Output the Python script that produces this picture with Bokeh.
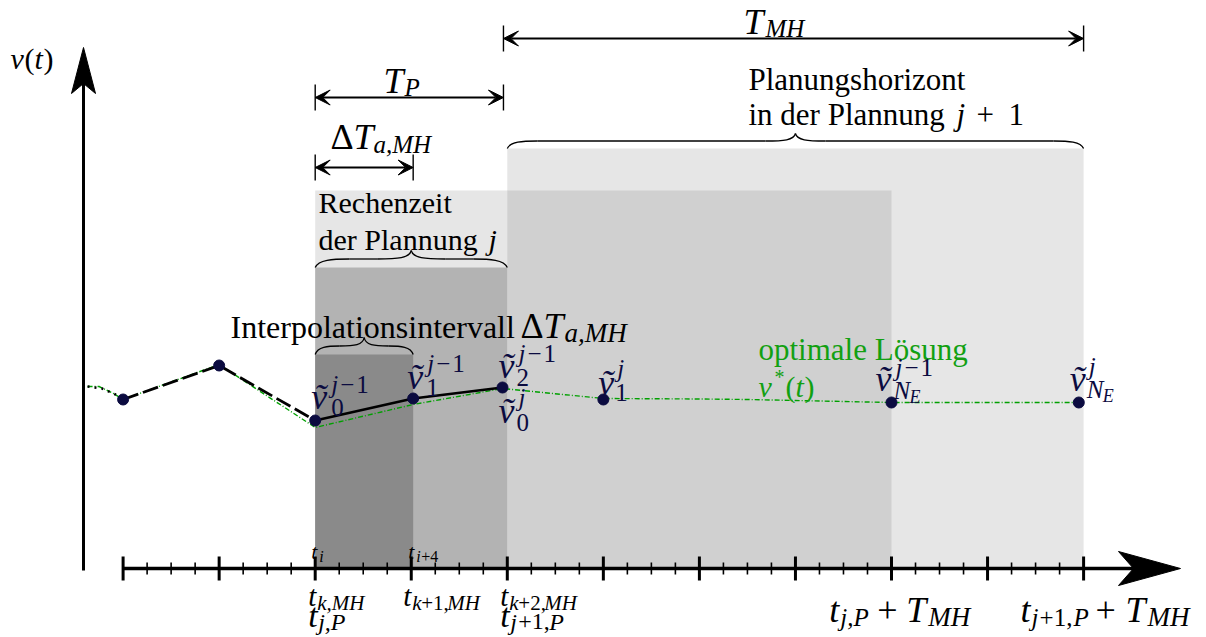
import numpy as np
from bokeh.plotting import figure
from bokeh.models import Range1d, Label, Arrow, VeeHead
from bokeh.embed import file_html
from bokeh.resources import INLINE

# ---------------- data ----------------
# time axis in planning-grid units (major = MH step, minor = quarter step)
major_ticks = list(range(0, 11))
minor_ticks = [k / 4 for k in range(0, 41) if k % 4 != 0]

# velocity support points  v~
t_points = [0.0, 1.0, 2.0, 3.02, 3.95, 5.0, 8.0, 9.95]
v_points = [16.9, 20.3, 14.8, 17.0, 18.1, 16.9, 16.6, 16.6]

# lead-in of the driven trajectory (dotted)
t_lead = [-0.37, -0.22, -0.08, 0.0]
v_lead = [18.2, 18.0, 17.4, 16.9]

# optimal solution v*(t)
t_opt = [-0.37, -0.25, -0.1, 0.0, 1.0, 2.0, 3.02, 3.95, 5.0, 6.0, 6.5, 7.0, 8.0, 9.95]
v_opt = [18.2, 18.2, 17.5, 16.9, 20.4, 14.1, 16.4, 18.0, 17.0, 16.95, 16.9, 16.8, 16.6, 16.6]

# time intervals
t_jP = 2.0       # t_{j,P}
T_P = 1.96       # planning period
dT_aMH = 1.02    # interpolation interval
T_MH = 6.04      # horizon length

# shaded regions (left, right, top)
region_left = [4.0, 2.0, 4.0, 2.0, 2.0]
region_right = [10.0, 8.0, 8.0, 4.0, 3.02]
region_top = [42.0, 37.8, 37.8, 30.1, 21.4]
region_color = ["#e6e6e6", "#e6e6e6", "#d0d0d0", "#b3b3b3", "#8a8a8a"]

# ---------------- layout mapping ----------------
X0, S = 122.6, 96.05      # px of t=0, px per t unit
Y0, SV = 568.0, 10.0      # px of v=0, px per v unit
W, H = 1206, 637


def tx(X):
    return (X - X0) / S


def vy(Y):
    return (Y0 - Y) / SV


def px(t):
    return X0 + t * S


def py(v):
    return Y0 - v * SV


p = figure(width=W, height=H, x_range=Range1d(tx(0), tx(W)),
           y_range=Range1d(vy(H), vy(0)), output_backend="svg",
           toolbar_location=None, x_axis_type=None, y_axis_type=None,
           min_border=0)
p.grid.visible = False
p.outline_line_color = None
p.background_fill_color = "white"
p.border_fill_color = "white"

# regions
p.quad(left=region_left, right=region_right, top=region_top,
       bottom=[0] * len(region_left), fill_color=region_color, line_color=None)

# trajectories
GREEN = "#12a012"
NAVY = "#0b0b40"
p.line(t_opt, v_opt, line_color="#00a000", line_width=1.4, line_dash="5 2 1 2")
p.line(t_lead, v_lead, line_color="black", line_width=2.5, line_dash="2 5")
p.line(t_points[:3], v_points[:3], line_color="black", line_width=2.8, line_dash="16 5")
p.line(t_points[2:5], v_points[2:5], line_color="black", line_width=2.6)
p.scatter(t_points, v_points, size=11, fill_color=NAVY, line_color=NAVY)

# ---------------- axes ----------------
t_axis_tip = tx(1180)
t_vaxis = tx(83)
v_vaxis_tip = vy(47)
p.line([0, t_axis_tip - 40 / S], [0, 0], line_color="black", line_width=3.5)
p.segment(x0=major_ticks, x1=major_ticks, y0=[-12 / SV] * len(major_ticks),
          y1=[12 / SV] * len(major_ticks), line_color="black", line_width=3)
p.segment(x0=minor_ticks, x1=minor_ticks, y0=[-6 / SV] * len(minor_ticks),
          y1=[6 / SV] * len(minor_ticks), line_color="black", line_width=1.6)
# arrow head horizontal axis (stealth)
L, Wd, N = 62 / S, 17 / SV, 47 / S
p.patch([t_axis_tip, t_axis_tip - L, t_axis_tip - N, t_axis_tip - L],
        [0, Wd, 0, -Wd], fill_color="black", line_color="black")
# vertical axis
p.line([t_vaxis, t_vaxis], [-0.2, v_vaxis_tip - 30 / SV], line_color="black", line_width=3)
Lv, Wv, Nv = 46 / SV, 12 / S, 36 / SV
p.patch([t_vaxis, t_vaxis - Wv, t_vaxis, t_vaxis + Wv],
        [v_vaxis_tip, v_vaxis_tip - Lv, v_vaxis_tip - Nv, v_vaxis_tip - Lv],
        fill_color="black", line_color="black")


# ---------------- dimension arrows ----------------
def dim_arrow(t0, t1, Yp, bar=13):
    v = vy(Yp)
    p.add_layout(Arrow(x_start=t0, y_start=v, x_end=t1, y_end=v, line_width=2,
                       start=VeeHead(size=15, fill_color="black", line_color="black"),
                       end=VeeHead(size=15, fill_color="black", line_color="black")))
    p.segment(x0=[t0, t1], x1=[t0, t1], y0=[v - bar / SV] * 2, y1=[v + bar / SV] * 2,
              line_color="black", line_width=1.4)


dim_arrow(t_jP + T_P, t_jP + T_P + T_MH, 38)
dim_arrow(t_jP, t_jP + T_P, 97)
dim_arrow(t_jP, t_jP + dT_aMH, 167)


# ---------------- braces ----------------
def brace(a, b, v0, amp=16):
    xa, xb, y0 = px(a), px(b), py(v0)
    m = (xa + xb) / 2
    c = min(2 * amp, (m - xa) / 2)
    ym = y0 - 0.5 * amp
    segs = []
    for sgn, e in ((1, xa), (-1, xb)):
        segs.append(((e, y0), (e + sgn * 0.1 * c, y0 - 0.45 * amp),
                     (e + sgn * 0.5 * c, ym), (e + sgn * c, ym)))
        segs.append(((m - sgn * c, ym), (m - sgn * 0.4 * c, ym),
                     (m - sgn * 0.05 * c, y0 - 0.55 * amp), (m, y0 - amp)))
        p.segment(x0=[tx(e + sgn * c)], x1=[tx(m - sgn * c)], y0=[vy(ym)], y1=[vy(ym)],
                  line_color="black", line_width=1.3)
    p.bezier(x0=[tx(s[0][0]) for s in segs], y0=[vy(s[0][1]) for s in segs],
             cx0=[tx(s[1][0]) for s in segs], cy0=[vy(s[1][1]) for s in segs],
             cx1=[tx(s[2][0]) for s in segs], cy1=[vy(s[2][1]) for s in segs],
             x1=[tx(s[3][0]) for s in segs], y1=[vy(s[3][1]) for s in segs],
             line_color="black", line_width=1.3)


brace(region_left[0], region_right[0], region_top[0], 15)
brace(region_left[3], region_right[3], region_top[3], 17)
brace(region_left[4], region_right[4], region_top[4], 17)

# ---------------- texts ----------------
SERIF = "Liberation Serif"
F = 30            # text size
M, MS, MSS = 36, 25, 18   # math size, sub/superscript, second-level


def lab(text, X, Y, size=F, color="black", italic=False):
    # Y is the intended baseline in px; compensate the renderer's baseline shift
    p.add_layout(Label(x=tx(X), y=vy(Y - 0.23 * size), text=text, text_font=SERIF,
                       text_font_size=f"{size}px",
                       text_font_style="italic" if italic else "normal",
                       text_color=color, text_align="left", text_baseline="alphabetic"))


def group(X, Y, pieces, color="black"):
    for text, dx, dy, size, it in pieces:
        lab(text, X + dx, Y + dy, size, color, it)


# v(t)
group(10, 65, [("v", 0, 0, F, True), ("(", 14, 0, F, False), ("t", 24, 0, F, True),
               (")", 33, 0, F, False)])
# T_MH, T_P, dT
group(743, 30, [("T", 0, 0, M, True), ("MH", 22, 4, MS, True)])
group(383, 89, [("T", 0, 0, M, True), ("P", 21, 4, MS, True)])
group(330, 145, [("Δ", 0, 0, M, False), ("T", 23, 0, M, True), ("a,MH", 43, 5, MS, True)])
# explanations
lab("Planungshorizont", 748, 86, 31)
group(748, 121, [("in der Plannung", 0, 0, 31, False), ("j", 208, 0, 31, True),
                 ("+", 228, 0, 31, False), ("1", 260, 0, 31, False)])
lab("Rechenzeit", 318, 209)
group(318, 246, [("der Plannung", 0, 0, F, False), ("j", 170, 0, F, True)])
group(230, 334, [("Interpolationsintervall", 0, 0, 32, False), ("Δ", 290, 0, M, False),
                 ("T", 313, 0, M, True), ("a,MH", 334, 5, 27, True)])
lab("optimale Lösung", 758, 356, 31, GREEN)
group(758, 393, [("v", 0, 0, F, True), ("*", 16, -12, 20, False), ("(", 27, 0, F, False),
                 ("t", 37, 0, F, True), (")", 46, 0, F, False)], GREEN)

VT = "v\u0303"


def plab(i, pieces):
    group(px(t_points[i]), py(v_points[i]), pieces, NAVY)


def jm1(dx, dy):
    return [("j", dx, dy, MS, True), ("−", dx + 9, dy, MS, False), ("1", dx + 25, dy, MS, False)]


plab(2, [(VT, -4, -15, M, True)] + jm1(16, -30) + [("0", 16, -7, MS, False)])
plab(3, [(VT, -6, -13, M, True)] + jm1(14, -29) + [("1", 13, -5, MS, False)])
plab(4, [(VT, -4, -13, M, True)] + jm1(16, -28) + [("2", 14, -4, MS, False)])
plab(4, [(VT, -4, 32, M, True), ("j", 16, 16, MS, True), ("0", 14, 41, MS, False)])
plab(5, [(VT, -5, -8, M, True), ("j", 14, -25, MS, True), ("1", 12, -1, MS, False)])
plab(6, [(VT, -16, -15, M, True)] + jm1(4, -29) +
     [("N", 2, -6, MS, True), ("E", 18, -1, MSS, True)])
plab(7, [(VT, -9, -15, M, True), ("j", 10, -30, MS, True),
         ("N", 8, -7, MS, True), ("E", 24, -2, MSS, True)])

# small grid labels above axis
group(px(t_jP), Y0, [("t", -4, -12, 22, True), ("i", 4, -8, 16, True)])
group(px(t_jP + dT_aMH), Y0, [("t", -5, -12, 22, True), ("i", 3, -8, 16, True),
                               ("+4", 8, -8, 16, False)])

# labels below axis
BT, BS = 29, 21
BM, BMS = 34, 24
group(px(t_jP), Y0, [("t", -7, 34, BT, True), ("k,MH", 2, 39, BS, True),
                     ("t", -7, 55, BM, True), ("j,P", 3, 59, BMS, True)])
group(px(3), Y0, [("t", -8, 34, BT, True), ("k", 1, 39, BS, True), ("+1,", 10, 39, BS, False),
                  ("MH", 36, 39, BS, True)])
group(px(4), Y0, [("t", -7, 34, BT, True), ("k", 2, 39, BS, True), ("+2,", 11, 39, BS, False),
                  ("MH", 37, 39, BS, True),
                  ("t", -7, 55, BM, True), ("j", 3, 59, BMS, True), ("+1,", 11, 59, BMS, False),
                  ("P", 42, 59, BMS, True)])
group(px(t_jP + T_MH), Y0, [("t", -66, 50, M, True), ("j,P", -55, 55, MS, True),
                            ("+", -18, 50, M, False), ("T", 11, 50, M, True),
                            ("MH", 33, 55, 27, True)])
group(px(t_jP + T_P + T_MH), Y0, [("t", -63, 50, M, True), ("j", -52, 55, MS, True),
                                  ("+1,", -44, 55, MS, False), ("P", -10, 55, MS, True),
                                  ("+", 12, 50, M, False), ("T", 42, 50, M, True),
                                  ("MH", 64, 55, 27, True)])

open("out.html", "w").write(file_html(p, INLINE))
